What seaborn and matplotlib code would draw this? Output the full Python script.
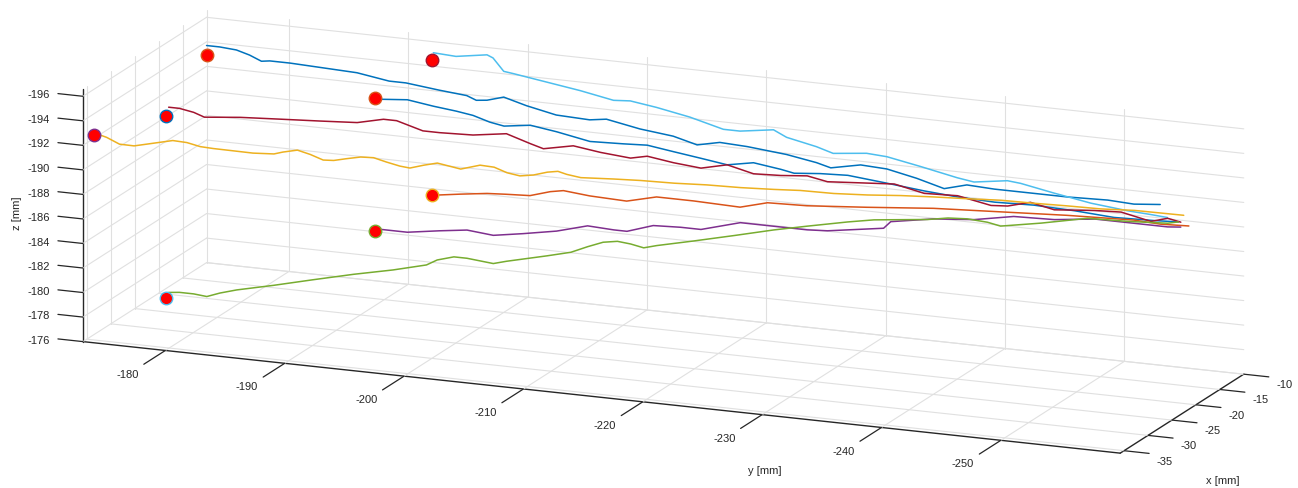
import numpy as np
import matplotlib
matplotlib.use('Agg')
import matplotlib.pyplot as plt
import seaborn as sns
from mpl_toolkits.mplot3d import proj3d

# MATLAB default colour order
matlab_colors = ['#0072BD', '#D95319', '#EDB120', '#7E2F8E', '#77AC30', '#4DBEEE', '#A2142F']

# trajectory A (dark blue, top left)
A_x = -10.0
A_y = [-173.1, -174.2, -175.6, -176.7, -177.7, -178.4, -180.1, -182.9, -185.7, -188.4, -189.8, -192.6, -194.9,
       -195.7, -196.6, -198.0, -199.9, -202.4, -205.2, -206.6, -209.4, -212.2, -214.2, -216.1, -218.4, -221.7,
       -224.2, -225.4, -227.9, -230.1, -232.6, -234.9, -236.8, -239.1, -241.9, -245.2, -248.6, -250.8, -253.0]
A_z = [-193.7, -193.7, -193.6, -193.3, -192.9, -193.0, -193.0, -192.9, -192.8, -192.4, -192.4, -192.1, -191.9,
       -191.6, -191.7, -192.1, -191.6, -191.1, -191.0, -191.2, -190.7, -190.4, -189.9, -190.3, -190.2, -189.9,
       -189.5, -189.2, -189.7, -189.6, -189.1, -188.5, -189.0, -188.9, -188.9, -188.9, -189.0, -188.9, -189.1]

# trajectory B (light blue)
B_x = -10.0
B_y = [-192.1, -194.0, -196.6, -197.1, -198.0, -198.8, -201.6, -204.4, -207.2, -208.6, -210.8, -213.6, -216.4,
       -217.8, -220.6, -221.7, -224.2, -225.6, -228.4, -230.1, -232.9, -236.0, -237.4, -240.2, -241.3, -244.1,
       -247.2, -250.3, -252.2, -253.6]
B_z = [-195.1, -195.0, -195.4, -195.2, -194.2, -194.1, -193.7, -193.3, -192.8, -192.9, -192.6, -192.1, -191.4,
       -191.4, -191.8, -191.3, -190.8, -190.4, -190.7, -190.6, -190.1, -189.5, -189.3, -189.7, -189.6, -189.1,
       -188.6, -188.3, -188.2, -188.1]

# trajectory C (dark blue, second)
C_x = -22.9
C_y = [-192.8, -195.1, -197.3, -199.2, -200.6, -202.0, -203.2, -205.4, -207.6, -210.4, -213.2, -215.2, -217.4,
       -219.7, -221.9, -224.1, -226.4, -227.5, -229.7, -232.0, -235.3, -238.4, -241.2, -244.3, -247.6, -251.0,
       -254.3, -257.7, -259.7]
C_z = [-194.6, -194.8, -194.5, -194.3, -194.1, -193.7, -193.5, -193.8, -193.5, -193.0, -193.1, -193.2, -192.9,
       -192.6, -192.3, -192.7, -192.4, -192.2, -192.4, -192.5, -192.2, -191.9, -191.7, -191.6, -191.7, -191.6,
       -191.4, -191.5, -191.6]

# trajectory D (dark red)
D_x = -22.9
D_y = [-175.1, -176.0, -177.2, -178.1, -181.1, -184.4, -187.8, -190.9, -193.1, -194.2, -195.3, -196.4, -197.8,
       -200.6, -203.4, -205.4, -206.5, -209.0, -211.3, -213.8, -215.2, -217.4, -219.7, -221.9, -224.1, -226.4,
       -228.6, -230.3, -233.1, -235.9, -238.4, -241.2, -244.0, -245.4, -247.3, -249.3, -252.7, -254.9, -257.4,
       -258.8, -259.9]
D_z = [-192.1, -192.1, -191.9, -191.6, -191.9, -192.1, -192.3, -192.5, -193.0, -193.0, -192.7, -192.4, -192.4,
       -192.5, -192.9, -192.3, -192.0, -192.5, -192.2, -192.0, -192.3, -192.0, -191.8, -192.3, -191.8, -191.9,
       -192.1, -191.8, -192.0, -192.2, -191.7, -191.8, -191.3, -191.4, -191.9, -191.5, -191.8, -191.9, -191.4,
       -191.8, -191.6]

# trajectory E (yellow)
E_x = [-35.8, -35.6, -35.4, -35.1, -34.9, -34.7, -34.5, -34.3, -34.0, -33.8, -33.5, -33.2, -32.8, -32.7, -32.4,
       -32.2, -32.0, -31.8, -31.6, -31.4, -31.2, -31.0, -30.7, -30.6, -30.4, -30.1, -29.7, -29.4, -29.2, -29.0,
       -28.8, -28.5, -28.3, -28.1, -28.0, -27.8, -27.2, -26.8, -26.2, -25.7, -25.1, -24.6, -24.1, -23.6, -23.0,
       -22.5, -21.9, -21.4, -20.8, -20.3, -19.7, -19.2, -18.6, -18.2, -17.8]
E_y = [-174.1, -175.0, -176.0, -177.1, -178.1, -179.1, -180.1, -181.2, -182.2, -183.2, -184.8, -186.3, -187.9,
       -188.6, -189.7, -190.7, -191.7, -192.5, -193.5, -194.6, -195.6, -196.6, -197.6, -198.4, -199.5, -200.5,
       -202.3, -203.8, -204.9, -205.9, -206.9, -207.9, -209.0, -209.8, -210.5, -211.6, -214.1, -216.2, -218.8,
       -221.3, -223.9, -226.5, -228.5, -231.1, -233.7, -236.3, -238.8, -241.4, -244.0, -246.6, -249.1, -251.7,
       -254.3, -256.3, -258.1]
E_z = [-193.1, -192.8, -192.3, -192.2, -192.4, -192.6, -192.8, -192.7, -192.4, -192.3, -192.2, -192.1, -192.1,
       -192.3, -192.5, -192.2, -191.8, -191.8, -192.0, -192.2, -192.2, -191.9, -191.6, -191.5, -191.8, -192.0,
       -191.6, -192.0, -191.9, -191.5, -191.3, -191.4, -191.7, -191.8, -191.6, -191.4, -191.4, -191.4, -191.3,
       -191.3, -191.2, -191.2, -191.2, -191.1, -191.1, -191.2, -191.2, -191.2, -191.2, -191.1, -191.0, -190.9,
       -190.9, -190.8, -190.7]

# trajectory F (orange)
F_x = -10.0
F_y = [-192.2, -194.3, -196.6, -198.2, -200.2, -201.9, -203.0, -205.2, -208.3, -210.8, -213.9, -217.8, -220.1,
       -223.4, -228.4, -234.0, -239.6, -245.2, -250.8, -253.0, -255.4]
F_z = [-183.5, -183.8, -184.1, -184.2, -184.3, -184.8, -185.0, -184.8, -184.7, -185.3, -185.3, -185.2, -185.8,
       -185.9, -186.3, -186.8, -187.1, -187.4, -187.6, -187.5, -187.6]

# trajectory G (purple)
G_x = -22.9
G_y = [-192.5, -195.1, -197.8, -200.1, -202.3, -204.8, -207.6, -210.2, -212.4, -213.5, -215.7, -218.0, -219.7,
       -223.0, -226.4, -228.6, -230.3, -235.0, -235.6, -239.2, -242.6, -245.9, -249.3, -252.7, -256.0, -258.8,
       -259.9]
G_z = [-184.0, -184.0, -184.4, -184.7, -184.5, -184.9, -185.4, -186.1, -186.0, -186.0, -186.7, -186.8, -186.8,
       -187.7, -187.7, -187.7, -187.8, -188.5, -189.1, -189.7, -190.0, -190.6, -190.7, -191.1, -191.1, -191.1,
       -191.2]

# trajectory H (green)
H_x = -22.9
H_y = [-175.1, -176.0, -177.2, -178.3, -179.4, -180.8, -183.9, -187.2, -190.6, -193.9, -196.7, -197.6, -199.0,
       -200.1, -201.2, -202.3, -203.4, -206.8, -208.8, -210.2, -211.5, -212.7, -213.8, -214.9, -216.0, -219.1,
       -222.5, -225.8, -228.6, -232.0, -234.2, -238.7, -240.4, -242.0, -243.7, -244.8, -248.2, -252.1, -255.5,
       -258.8, -259.7]
H_z = [-177.0, -177.1, -177.1, -177.0, -177.4, -177.8, -178.5, -179.3, -180.1, -180.8, -181.5, -182.0, -182.4,
       -182.4, -182.3, -182.2, -182.5, -183.3, -183.8, -184.4, -184.9, -185.1, -185.0, -184.8, -185.1, -185.8,
       -186.6, -187.4, -188.0, -188.7, -189.1, -189.6, -189.9, -190.0, -189.9, -189.7, -190.3, -191.1, -191.2,
       -191.4, -191.6]

# start points (red dots), order A..H
start_x = [-10.0, -10.0, -22.9, -22.9, -35.8, -10.0, -22.9, -22.9]
start_y = [-173.1, -192.0, -192.4, -174.9, -174.0, -192.0, -192.4, -174.9]
start_z = [-192.9, -194.5, -194.7, -191.4, -192.9, -183.5, -183.8, -176.5]

x_ticks = [-35, -30, -25, -20, -15, -10]
y_ticks = [-250, -240, -230, -220, -210, -200, -190, -180]
z_ticks = [-196, -194, -192, -190, -188, -186, -184, -182, -180, -178, -176]

xmin, xmax = -35.8, -10
ymin, ymax = -260, -173.1
zfloor, ztop = -176, -196.6

sns.set_theme(style='white')
plt.rcParams['font.family'] = ['Liberation Sans', 'DejaVu Sans']
plt.rcParams['axes.unicode_minus'] = False

ink = '#262626'
grid_col = '#e0e0e0'
fig = plt.figure(figsize=(12.98, 4.88), dpi=100)
ax = fig.add_axes([0.006, 0.012, 1, 1], projection='3d', proj_type='ortho', computed_zorder=False)

# MATLAB-like grid on the three back planes
grid_kw = dict(color=grid_col, lw=0.8, clip_on=False, zorder=1)
for t in y_ticks:
    ax.plot([xmax, xmax], [t, t], [zfloor, ztop], **grid_kw)
    ax.plot([xmin, xmax], [t, t], [zfloor, zfloor], **grid_kw)
for t in x_ticks:
    ax.plot([t, t], [ymax, ymax], [zfloor, ztop], **grid_kw)
    ax.plot([t, t], [ymin, ymax], [zfloor, zfloor], **grid_kw)
for t in z_ticks:
    ax.plot([xmax, xmax], [ymin, ymax], [t, t], **grid_kw)
    ax.plot([xmin, xmax], [ymax, ymax], [t, t], **grid_kw)

trajs = [
    (A_x, A_y, A_z, matlab_colors[0], matlab_colors[1]),
    (B_x, B_y, B_z, matlab_colors[5], matlab_colors[6]),
    (C_x, C_y, C_z, matlab_colors[0], matlab_colors[1]),
    (D_x, D_y, D_z, matlab_colors[6], matlab_colors[0]),
    (E_x, E_y, E_z, matlab_colors[2], matlab_colors[3]),
    (F_x, F_y, F_z, matlab_colors[1], matlab_colors[2]),
    (G_x, G_y, G_z, matlab_colors[3], matlab_colors[4]),
    (H_x, H_y, H_z, matlab_colors[4], matlab_colors[5]),
]

for xs, ys, zs, col, _ in trajs:
    xs = np.broadcast_to(np.asarray(xs, dtype=float), (len(ys),))
    ax.plot(xs, ys, zs, color=col, lw=1.1, zorder=3, clip_on=False)

for i, (_, _, _, _, edge) in enumerate(trajs):
    ax.plot([start_x[i]], [start_y[i]], [start_z[i]], 'o', ms=9, mfc='red', mec=edge, mew=1.0,
            zorder=5, clip_on=False)

ax.set_xlim(xmin, xmax)
ax.set_ylim(ymin, ymax)
ax.set_zlim(ztop, zfloor)
ax.invert_zaxis()
ax.set_xticks([])
ax.set_yticks([])
ax.set_zticks([])
ax.grid(False)

ax.view_init(elev=15.2, azim=202.3)
ax.set_box_aspect((327, 1126, 263), zoom=2.38)

for axis in (ax.xaxis, ax.yaxis, ax.zaxis):
    axis.set_pane_color((1, 1, 1, 0))
    axis.pane.set_edgecolor('none')
    axis.line.set_color(ink)
    axis.line.set_linewidth(1.0)

# projection used to place the tick labels as plain 2D texts
M = ax.get_proj()
txt_kw = dict(fontsize=8, color=ink)


def label3d(x, y, z, s, **kw):
    px, py, _ = proj3d.proj_transform(x, y, z, M)
    ax.text2D(px, py, s, transform=ax.transData, **kw)


# MATLAB-style outward ticks and tick labels
tick_kw = dict(color=ink, lw=0.9, clip_on=False, zorder=2)
for t in y_ticks:
    ax.plot([xmin, xmin - 4.5], [t, t], [zfloor, zfloor], **tick_kw)
    label3d(xmin - 7.9, t, zfloor, str(t), ha='center', va='center', **txt_kw)
for t in x_ticks:
    ax.plot([t, t], [ymin, ymin - 2.1], [zfloor, zfloor], **tick_kw)
    label3d(t, ymin - 3.4, zfloor + 0.54, str(t), ha='center', va='center', **txt_kw)
for t in z_ticks:
    ax.plot([xmin, xmin], [ymax, ymax + 2.1], [t, t], **tick_kw)
    label3d(xmin, ymax + 2.77, t + 0.22, str(t), ha='right', va='center', **txt_kw)

fig.text(17 / 1298, 1 - 213 / 488, 'z [mm]', rotation=90, ha='center', va='center', **txt_kw)
fig.text(765 / 1298, 1 - 471 / 488, 'y [mm]', ha='center', va='center', **txt_kw)
fig.text(1223 / 1298, 1 - 481 / 488, 'x [mm]', ha='center', va='center', **txt_kw)

fig.savefig('out.png', dpi=100)
